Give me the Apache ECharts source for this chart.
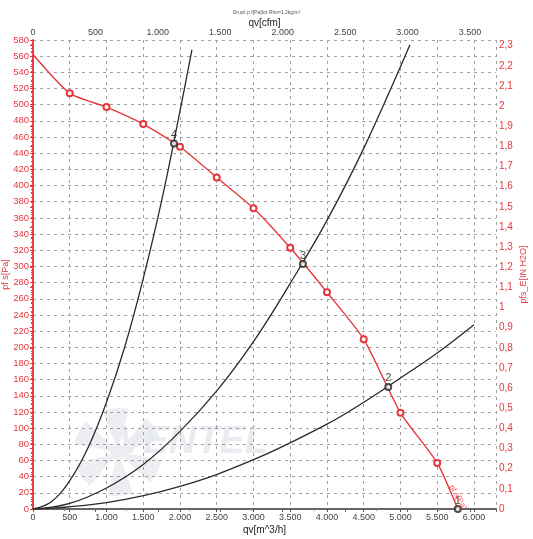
<!DOCTYPE html>
<html>
<head>
<meta charset="utf-8">
<script src="https://cdn.jsdelivr.net/npm/echarts@6/dist/echarts.min.js"></script>
<style>
  html, body { margin: 0; padding: 0; background: #fff; }
  #chart { width: 533px; height: 539px; }
</style>
</head>
<body>
<div id="chart"></div>
<script>
  // fan curve (red), pressure vs flow
  const fanFlow = [0, 500, 1000, 1500, 2000, 2500, 3000, 3500, 4000, 4500, 5000, 5500, 5780];
  const fanPress = [562, 514, 497, 476, 448, 410, 372, 323, 268, 210, 119, 57, 0];

  // system curves (black)
  const sys1Flow = [0, 250, 500, 750, 1000, 1250, 1500, 1750, 2000, 2163];
  const sys1Press = [0, 9, 35, 76, 132, 201, 285, 381, 492, 568];
  const sys2Flow = [0, 500, 1000, 1500, 2000, 2500, 3000, 3500, 4000, 4500, 5129];
  const sys2Press = [0, 7, 26, 55, 96, 146, 207, 279, 357, 446, 574];
  const sys3Flow = [0, 1000, 2000, 3000, 4000, 4500, 5000, 5500, 6000];
  const sys3Press = [0, 8, 28, 61, 105, 132, 162, 193, 228];

  // operating points
  const opFlow = [5780, 4834, 3673, 1918];
  const opPress = [0, 151, 303, 452];
  const opNames = ['1', '2', '3', '4'];
  const curveTag = 'pf s[Pa]';

  const RED = '#e5383d';
  const X_MAX = 6300;
  const Y_MAX = 580;
  const CFM = 0.58858;    // m3/h -> cfm
  const INH2O = 249.089;  // Pa per inch H2O

  const pairs = (xs, ys) => xs.map((x, i) => [x, ys[i]]);
  const thousands = v => v >= 1000 ? (v / 1000).toFixed(3) : String(v);

  let myChart = echarts.init(document.getElementById('chart'));

  let fanData = fanFlow.map((x, i) => ({
    value: [x, fanPress[i]],
    symbol: (i === 0 || i === fanFlow.length - 1) ? 'none' : 'emptyCircle'
  }));

  // watermark fan blades
  let blades = [];
  for (let i = 0; i < 6; i++) {
    blades.push({
      type: 'sector',
      shape: { cx: 118, cy: 452, r0: 7, r: 44, startAngle: (i * 60 + 10) * Math.PI / 180, endAngle: (i * 60 + 44) * Math.PI / 180 },
      style: { fill: '#eceef1' },
      z: -10
    });
  }

  let option = {
    animation: false,
    title: {
      text: 'Druck p f[Pa]for Rho=1.2kg/m³',
      left: 'center',
      top: 5,
      textStyle: { fontSize: 5, fontWeight: 'normal', color: '#555' }
    },
    graphic: blades.concat([
      {
        type: 'circle',
        shape: { cx: 118, cy: 452, r: 8 },
        style: { fill: '#eceef1' },
        z: -10
      },
      {
        type: 'text',
        left: 118,
        top: 424,
        style: { text: 'VENTEL', font: 'italic bold 38px "Liberation Sans"', fill: '#e8ebef' },
        z: -10
      }
    ]),
    grid: { left: 33, right: 37, top: 40, bottom: 30, outerBoundsMode: 'none', containLabel: false },
    xAxis: [
      {
        type: 'value',
        position: 'bottom',
        min: 0,
        max: X_MAX,
        interval: 500,
        name: 'qv[m^3/h]',
        nameLocation: 'middle',
        nameGap: 16,
        nameMoveOverlap: false,
        nameTextStyle: { fontSize: 10, color: '#222' },
        axisLine: { show: true, lineStyle: { color: '#555', width: 1.5 } },
        axisTick: { show: true, length: 3, lineStyle: { color: '#555' } },
        axisLabel: { fontSize: 9, color: '#444', margin: 4, showMaxLabel: false, formatter: thousands },
        splitLine: { show: true, lineStyle: { color: '#a0a0a0', type: [3, 4] } }
      },
      {
        type: 'value',
        position: 'top',
        min: 0,
        max: X_MAX * CFM,
        interval: 500,
        name: 'qv[cfm]',
        nameLocation: 'middle',
        nameGap: 12,
        nameMoveOverlap: false,
        nameTextStyle: { fontSize: 10, color: '#222' },
        axisLine: { show: true, lineStyle: { color: '#666', width: 2 } },
        axisTick: { show: true, length: 3, inside: true, lineStyle: { color: '#666' } },
        minorTick: { show: true, splitNumber: 2, length: 2, lineStyle: { color: '#888' } },
        axisLabel: { fontSize: 9, color: '#444', margin: 3, showMaxLabel: false, formatter: thousands },
        splitLine: { show: false }
      }
    ],
    yAxis: [
      {
        type: 'value',
        position: 'left',
        min: 0,
        max: Y_MAX,
        interval: 20,
        name: 'pf s[Pa]',
        nameLocation: 'middle',
        nameGap: 23,
        nameMoveOverlap: false,
        nameRotate: 90,
        nameTextStyle: { fontSize: 9, color: RED },
        axisLine: { show: true, lineStyle: { color: RED, width: 1.5 } },
        axisTick: { show: true, length: 3, lineStyle: { color: RED } },
        minorTick: { show: true, splitNumber: 4, length: 2, lineStyle: { color: RED } },
        axisLabel: { fontSize: 9.5, color: RED, margin: 4 },
        splitLine: { show: true, lineStyle: { color: '#a0a0a0', type: [3, 4] } }
      },
      {
        type: 'value',
        position: 'right',
        min: 0,
        max: Y_MAX / INH2O,
        interval: 0.1,
        name: 'pfs_E[IN H2O]',
        nameLocation: 'middle',
        nameGap: 23,
        nameMoveOverlap: false,
        nameRotate: 90,
        nameTextStyle: { fontSize: 9, color: RED },
        axisLine: { show: true, lineStyle: { color: RED, width: 1.5 } },
        axisTick: { show: true, length: 3, inside: true, lineStyle: { color: RED } },
        minorTick: { show: true, splitNumber: 4, length: 2, lineStyle: { color: RED } },
        axisLabel: {
          fontSize: 10, color: RED, margin: 3, showMaxLabel: false,
          formatter: v => String(+v.toFixed(1)).replace('.', ',')
        },
        splitLine: { show: false }
      }
    ],
    series: [
      {
        name: 'sys1',
        type: 'line',
        data: pairs(sys1Flow, sys1Press),
        smooth: 0.4,
        showSymbol: false,
        lineStyle: { color: '#2a2a2a', width: 1.3 }
      },
      {
        name: 'sys2',
        type: 'line',
        data: pairs(sys2Flow, sys2Press),
        smooth: 0.4,
        showSymbol: false,
        lineStyle: { color: '#2a2a2a', width: 1.3 }
      },
      {
        name: 'sys3',
        type: 'line',
        data: pairs(sys3Flow, sys3Press),
        smooth: 0.4,
        showSymbol: false,
        lineStyle: { color: '#2a2a2a', width: 1.3 }
      },
      {
        name: 'fan',
        type: 'line',
        data: fanData,
        smooth: 0.2,
        symbolSize: 6,
        lineStyle: { color: RED, width: 1.4 },
        itemStyle: { color: RED, borderColor: RED, borderWidth: 1.2 },
        z: 3
      },
      {
        name: 'op',
        type: 'scatter',
        data: opFlow.map((x, i) => ({ value: [x, opPress[i]], name: opNames[i] })),
        symbol: 'emptyCircle',
        symbolSize: 6,
        itemStyle: { color: '#222', borderColor: '#222', borderWidth: 1.1 },
        label: {
          show: true, position: 'top', distance: -1,
          formatter: p => p.name, fontSize: 11, color: '#222'
        },
        z: 4
      },
      {
        name: 'tag',
        type: 'scatter',
        data: [[fanFlow[fanFlow.length - 1], 0]],
        symbol: 'circle',
        symbolSize: 1,
        silent: true,
        itemStyle: { color: 'rgba(0,0,0,0)' },
        label: {
          show: true, position: 'inside', rotate: -60, offset: [-10, -6],
          formatter: curveTag, fontSize: 8, color: RED
        },
        z: 5
      }
    ]
  };
  myChart.setOption(option);
</script>
</body>
</html>
